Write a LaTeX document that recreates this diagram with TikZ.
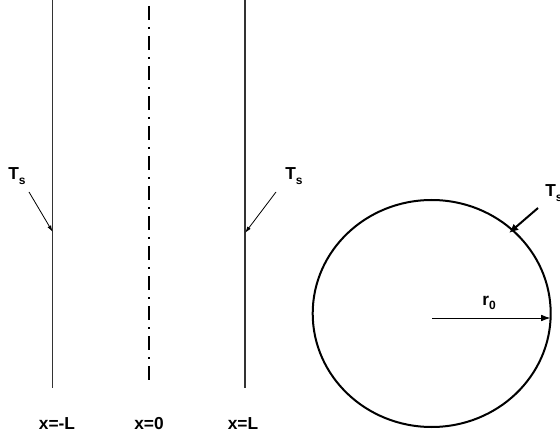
\documentclass[tikz,border=0pt]{standalone}
\usepackage{fontspec}
\setmainfont{Liberation Sans}
\usetikzlibrary{arrows.meta}
\newcommand{\Tsub}{T\raisebox{-3.5pt}{\fontsize{9}{10}\selectfont s}}
\begin{document}
\begin{tikzpicture}[x=0.75pt,y=-0.75pt,
  lbl/.style={inner sep=0pt,font=\fontsize{13}{15}\selectfont\bfseries},
  wall/.style={line width=0.8pt,black!80},
  axis/.style={line width=0.9pt,black,dash pattern=on 10.5pt off 5.25pt on 1.5pt off 5.25pt,dash phase=-4.5pt},
  thinarrow/.style={line width=0.6pt,-{Latex[length=5pt,width=3pt]}},
  thickarrow/.style={line width=1.5pt,-{Latex[length=7pt,width=6pt]}},
  radarrow/.style={line width=0.75pt,-{Latex[length=7pt,width=5pt]}}]
\useasboundingbox (0,0) rectangle (560,438);
% walls
\coordinate (lt) at (52.7,0);
\coordinate (lb) at (52.7,388);
\coordinate (rt) at (245,0);
\coordinate (rb) at (245,388);
\coordinate (ct) at (149,0);
\coordinate (cb) at (149,382);
\draw[wall] (lt) -- (lb);
\draw[wall] (rt) -- (rb);
\draw[axis] (ct) -- (cb);
% bottom labels
\node[lbl,anchor=base] (xl) at (57,429) {x=-L};
\node[lbl,anchor=base] (x0) at (149,429) {x=0};
\node[lbl,anchor=base] (xr) at (243,429) {x=L};
% Ts labels on walls
\node[lbl,anchor=base west] (tsl) at (8,180) {\Tsub};
\node[lbl,anchor=base west] (tsr) at (285,180) {\Tsub};
\coordinate (al0) at (29,192);
\coordinate (al1) at (52.7,232);
\coordinate (ar0) at (276,192);
\coordinate (ar1) at (245,233);
\draw[thinarrow] (al0) -- (al1);
\draw[thinarrow] (ar0) -- (ar1);
% circle
\coordinate (cc) at (431.7,313.5);
\draw[line width=1.5pt] (cc) ellipse [x radius=119, y radius=113.5];
\coordinate (r0a) at (432,318);
\coordinate (r0b) at (550.5,318);
\draw[radarrow] (r0a) -- (r0b);
\node[lbl,anchor=base west] (r0) at (482,305) {r\raisebox{-3.5pt}{\fontsize{9}{10}\selectfont 0}};
\node[lbl,anchor=base west] (tsc) at (545,197) {\Tsub};
\coordinate (ac0) at (538,208);
\coordinate (ac1) at (509,233);
\draw[thickarrow] (ac0) -- (ac1);
\end{tikzpicture}
\end{document}
